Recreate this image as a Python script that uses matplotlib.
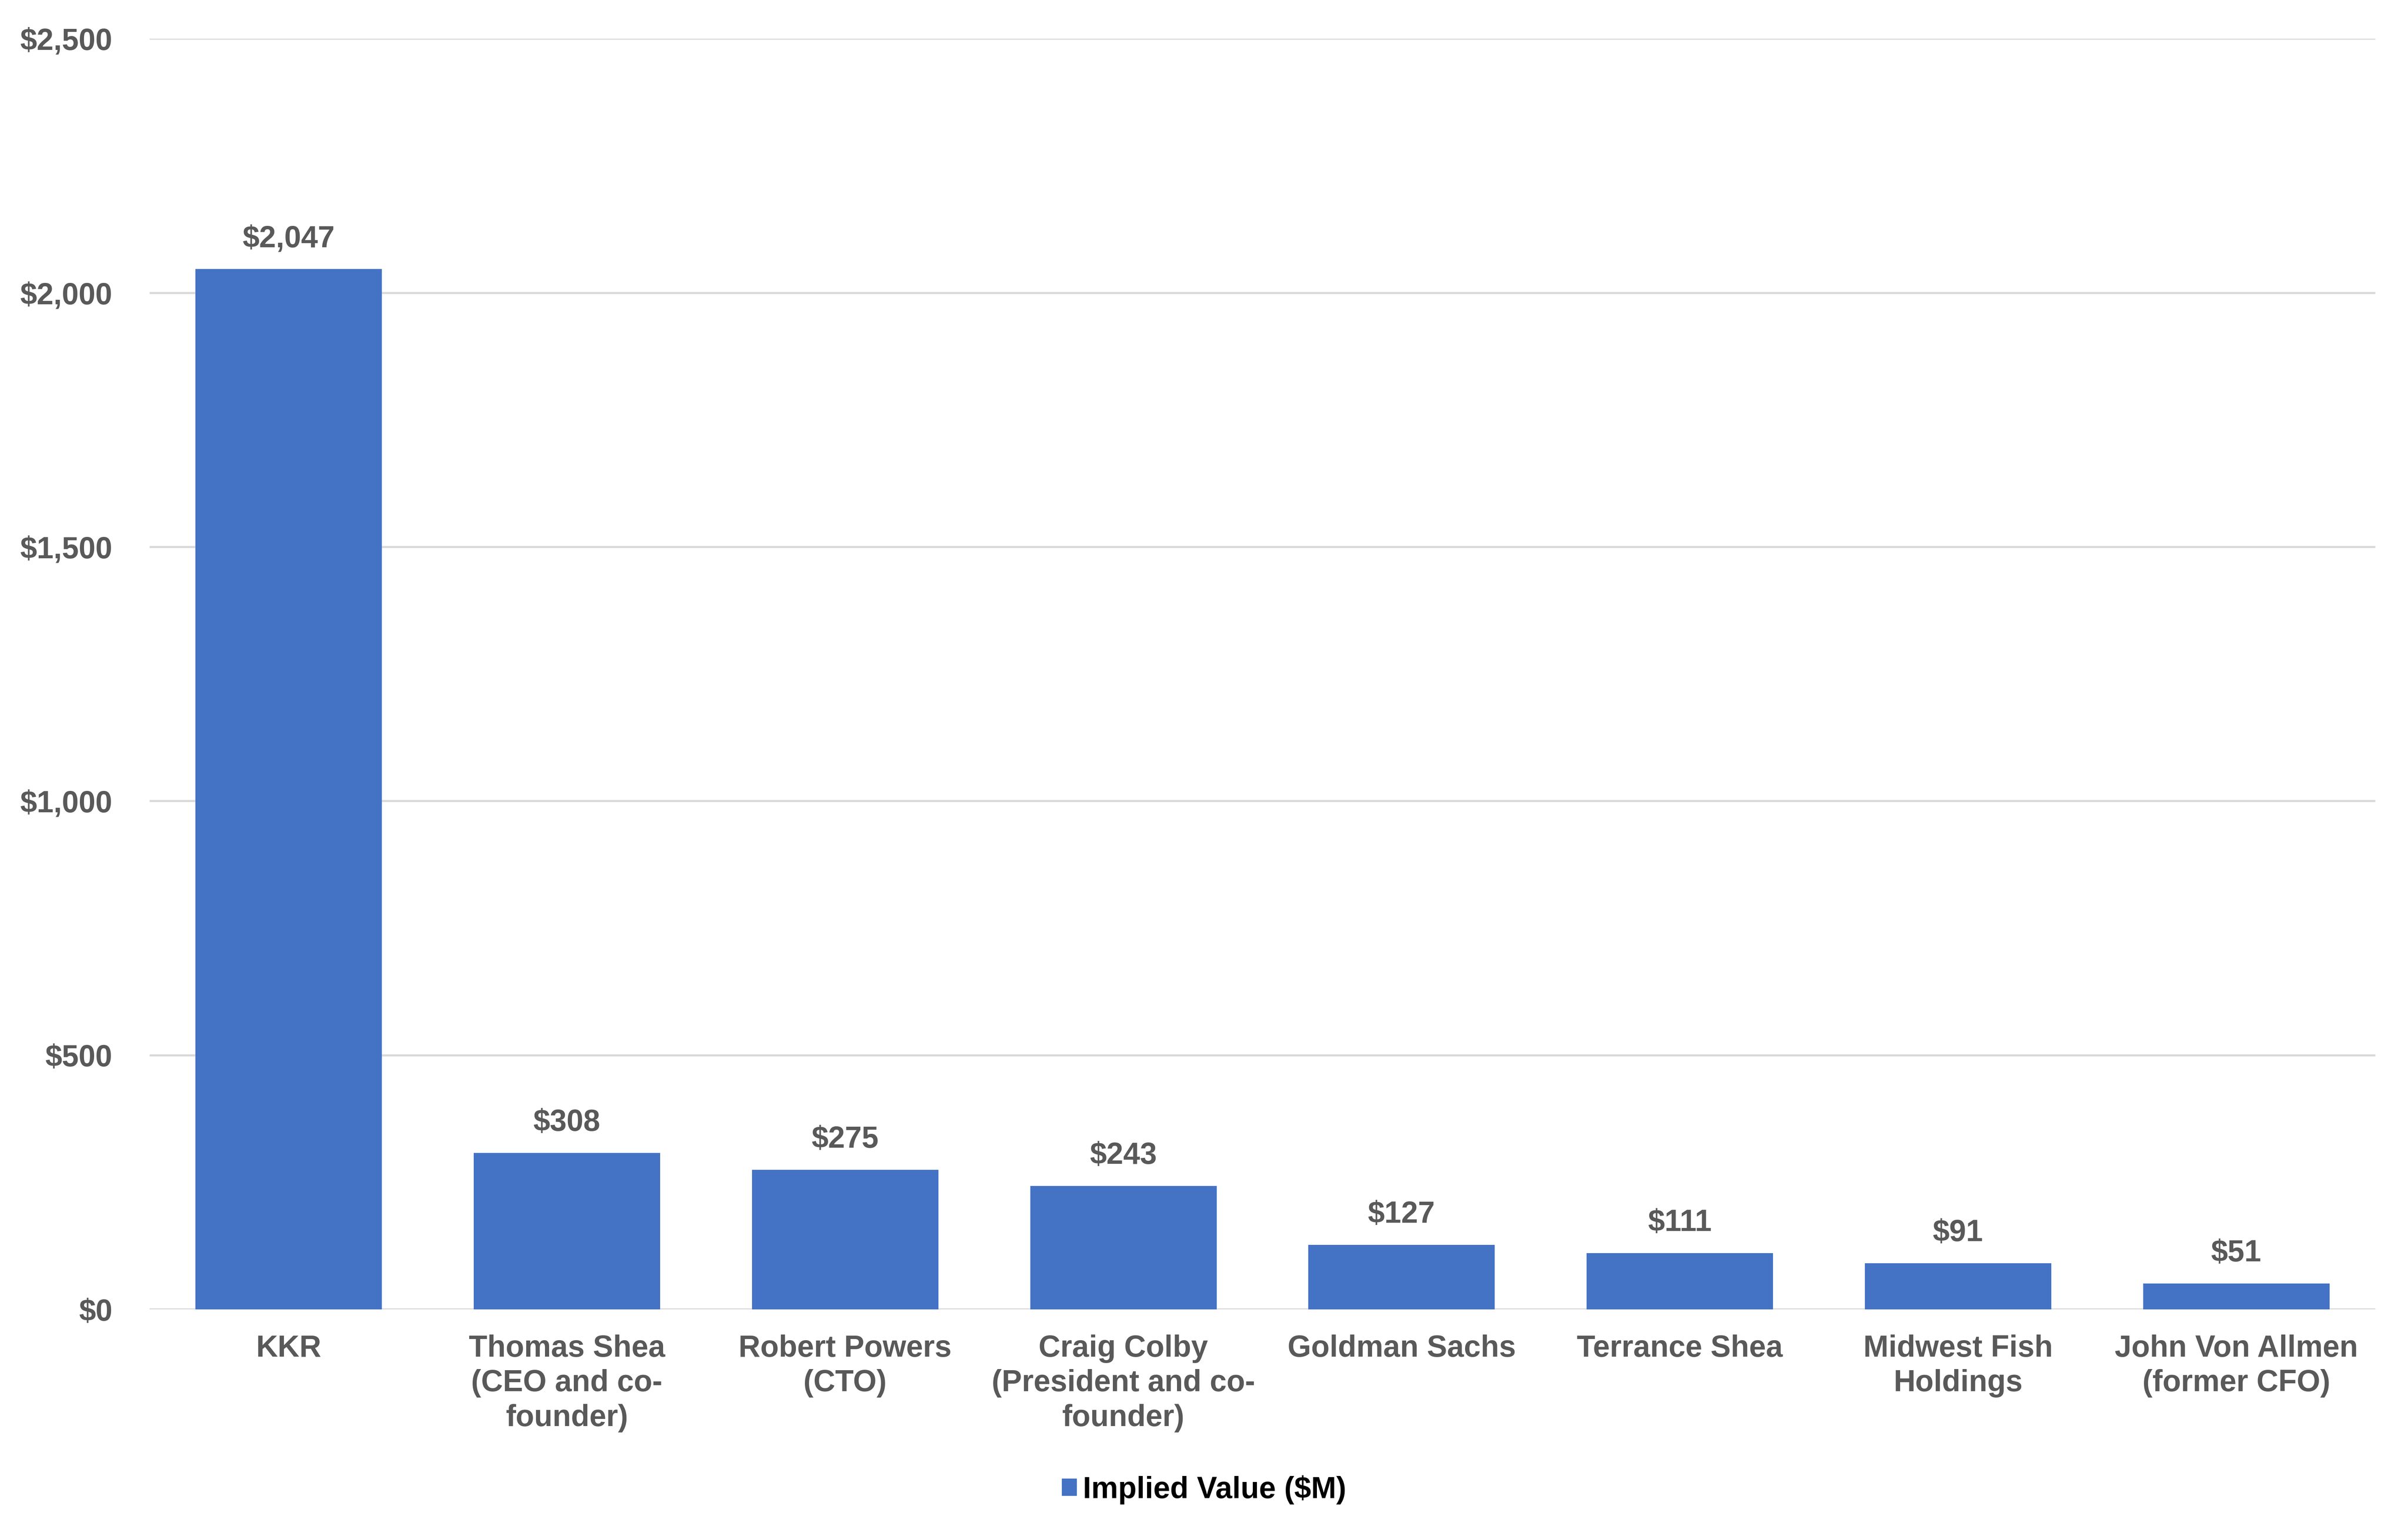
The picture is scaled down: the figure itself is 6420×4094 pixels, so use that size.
import matplotlib
matplotlib.use("Agg")
import matplotlib.pyplot as plt
from matplotlib.ticker import FuncFormatter, MultipleLocator

categories = ["KKR", "Thomas Shea\n(CEO and co-\nfounder)", "Robert Powers\n(CTO)",
              "Craig Colby\n(President and co-\nfounder)", "Goldman Sachs", "Terrance Shea",
              "Midwest Fish\nHoldings", "John Von Allmen\n(former CFO)"]
values = [2047, 308, 275, 243, 127, 111, 91, 51]
series_name = "Implied Value ($M)"

plt.rcParams['font.family'] = ['Liberation Sans', 'DejaVu Sans']
plt.rcParams['font.weight'] = 'bold'

DPI = 100
fig = plt.figure(figsize=(64.2, 40.94), dpi=DPI)
ax = fig.add_axes([0.0621, 0.1475, 0.9865 - 0.0621, 0.9748 - 0.1475])

GRAY = "#595959"
BLUE = "#4472C4"
FS = 58

x = list(range(len(categories)))
bars = ax.bar(x, values, width=0.67, color=BLUE, label=series_name, zorder=3)

ax.set_xlim(-0.5, len(categories) - 0.5)
ax.set_ylim(0, 2500)
ax.yaxis.set_major_locator(MultipleLocator(500))
ax.yaxis.set_major_formatter(FuncFormatter(lambda v, p: f"${v:,.0f}"))
ax.grid(axis='y', color="#d9d9d9", linewidth=4, zorder=0)
ax.set_axisbelow(True)
for s in ax.spines.values():
    s.set_visible(False)

ax.set_xticks(x)
ax.set_xticklabels(categories, fontsize=FS, color=GRAY, fontweight='bold', linespacing=1.28)
ax.tick_params(axis='x', length=0, pad=48)
ax.tick_params(axis='y', length=0, pad=71, labelsize=FS, labelcolor=GRAY)
for t in ax.get_yticklabels():
    t.set_fontweight('bold')

for b, v in zip(bars, values):
    ax.annotate(f"${v:,.0f}", (b.get_x() + b.get_width() / 2, v), xytext=(0, 30),
                textcoords='offset points', ha='center', va='bottom',
                fontsize=FS, color=GRAY, fontweight='bold')

leg = fig.legend(handles=[bars], labels=[series_name], loc='center',
                 bbox_to_anchor=(0.5, 1 - 3971 / 4094), frameon=False,
                 prop={'size': FS, 'weight': 'bold'}, handlelength=0.5,
                 handleheight=0.5, handletextpad=0.2)

fig.savefig("out.png", dpi=DPI)
